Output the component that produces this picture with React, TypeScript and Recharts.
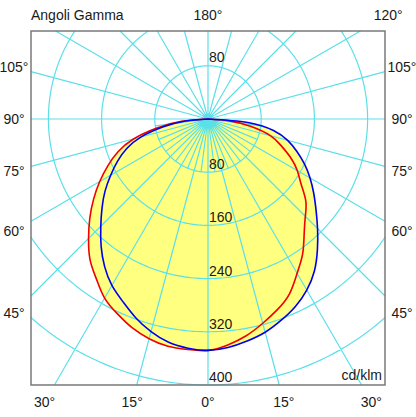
import React from 'react';
import { ScatterChart, Scatter, XAxis, YAxis } from 'recharts';

// luminous intensity in cd/klm, read every 5 degrees of gamma (0 = nadir)
const GAMMA = [0, 5, 10, 15, 20, 25, 30, 35, 40, 45, 50, 55, 60, 65, 70, 75, 80, 85, 90];
const RED_LEFT = [348, 348, 347, 342, 334, 323, 311, 293, 276, 254, 232, 210, 188, 166, 144, 116, 78, 40, 0];
const RED_RIGHT = [348, 341, 331, 318, 305, 290, 268, 248, 225, 207, 192, 171, 155, 137, 117, 97, 66, 33, 0];
const BLUE_LEFT = [348, 346, 341, 331, 318, 303, 289, 271, 250, 228, 208, 189, 169, 150, 130, 104, 68, 34, 0];
const BLUE_RIGHT = [348, 345, 339, 332, 322, 311, 297, 279, 256, 233, 212, 194, 177, 160, 142, 124, 100, 60, 0];

const RINGS = [80, 160, 240, 320, 400];
const RINGS_UP = [80];
const SPOKES = [0, 15, 30, 45, 60, 75, 90, 105, 120, 135, 150, 165, 180];
const FINE_SPOKES = [7.5, 22.5, 37.5, 52.5, 67.5, 82.5];
const SIDE_TICKS = [45, 60, 75, 90, 105];
const BOTTOM_TICKS = [0, 15, 30];
const TOP_TICKS = [180, 120];
const TITLE = 'Angoli Gamma';
const UNIT = 'cd/klm';

// layout
const W = 416;
const H = 417;
const POLE_X = 208;
const POLE_Y = 119;
const PX = 266 / 400; // pixels per cd/klm
const X_DOMAIN = [-POLE_X / PX, (W - POLE_X) / PX];
const Y_DOMAIN = [-(H - POLE_Y) / PX, POLE_Y / PX];
const BOX = { left: -177 / PX, right: 177 / PX, top: 88 / PX, bottom: -266 / PX };
const LBL_SIDE = 194 / PX;
const LBL_TOP = 104 / PX;
const LBL_BOTTOM = 283 / PX;

const GRID = '#5ce0e8';
const FONT = "'Liberation Sans', Arial, sans-serif";

type Pt = { x: number; y: number };

const rad = (d: number) => (d * Math.PI) / 180;
const polar = (g: number, r: number, side: number) => ({
  x: side * r * Math.sin(rad(g)),
  y: -r * Math.cos(rad(g)),
});

const outline = (left: number[], right: number[]) => [
  ...GAMMA.map((g, i) => polar(g, left[i], -1)).reverse(),
  ...GAMMA.map((g, i) => polar(g, right[i], 1)).slice(1),
];

const spoke = (g: number, side: number, len = Infinity): Pt[] => {
  const sx = side * Math.sin(rad(g));
  const sy = -Math.cos(rad(g));
  let t = len;
  if (Math.abs(sx) > 1e-9) t = Math.min(t, BOX.right / Math.abs(sx));
  if (sy > 1e-9) t = Math.min(t, BOX.top / sy);
  if (sy < -1e-9) t = Math.min(t, -BOX.bottom / -sy);
  return [{ x: 0, y: 0 }, { x: sx * t, y: sy * t }];
};

const EPS = 1e-6;
const inBox = (p: Pt) =>
  p.x >= BOX.left - EPS && p.x <= BOX.right + EPS && p.y >= BOX.bottom - EPS && p.y <= BOX.top + EPS;
const onRing = (r: number, a: number) => ({ x: r * Math.sin(rad(a)), y: -r * Math.cos(rad(a)) });

// circle of radius r clipped to the frame, as separate arcs
const ringArcs = (r: number) => {
  const arcs: Pt[][] = [];
  let cur: Pt[] = [];
  let prevA = 180;
  let prevIn = inBox(onRing(r, 180));
  if (prevIn) cur.push(onRing(r, 180));
  for (let a = 181; a <= 540; a++) {
    const p = onRing(r, a);
    const isIn = inBox(p);
    if (isIn !== prevIn) {
      let lo = prevA;
      let hi = a;
      for (let k = 0; k < 40; k++) {
        const m = (lo + hi) / 2;
        if (inBox(onRing(r, m)) === prevIn) lo = m;
        else hi = m;
      }
      if (prevIn) {
        cur.push(onRing(r, lo));
        arcs.push(cur);
        cur = [];
      } else {
        cur = [onRing(r, hi)];
      }
    }
    if (isIn) cur.push(p);
    prevA = a;
    prevIn = isIn;
  }
  if (cur.length) arcs.push(cur);
  return arcs;
};

const gridParts: Pt[][] = [
  ...FINE_SPOKES.flatMap((g) => [-1, 1].map((s) => spoke(g, s, RINGS[0]))),
  ...SPOKES.flatMap((g) => (g === 0 || g === 180 ? [1] : [-1, 1]).map((s) => spoke(g, s))),
  ...RINGS.flatMap((r) => ringArcs(r)),
];
const gridPoints = gridParts.flat();
const gridSizes = gridParts.map((p) => p.length);

const frame = [
  { x: BOX.left, y: BOX.top },
  { x: BOX.right, y: BOX.top },
  { x: BOX.right, y: BOX.bottom },
  { x: BOX.left, y: BOX.bottom },
];

// draws several separate polylines from one series' projected points
const polylines = (sizes: number[], stroke: string, width: number, closed = false) => (props: any) => {
  const pts = props.points || [];
  let d = '';
  let i = 0;
  for (const n of sizes) {
    const part = pts.slice(i, i + n);
    i += n;
    part.forEach((p: Pt, j: number) => {
      d += (j === 0 ? 'M' : 'L') + p.x.toFixed(2) + ',' + p.y.toFixed(2);
    });
    if (closed) d += 'Z';
  }
  return <path d={d} stroke={stroke} strokeWidth={width} fill="none" />;
};

const deg = (g: number) => `${g}°`;
const angleLabels = [
  ...SIDE_TICKS.flatMap((g) =>
    [-1, 1].map((s) => ({ x: s * LBL_SIDE, y: (-LBL_SIDE * Math.cos(rad(g))) / Math.sin(rad(g)), text: deg(g) }))
  ),
  ...BOTTOM_TICKS.flatMap((g) =>
    (g === 0 ? [1] : [-1, 1]).map((s) => ({ x: s * LBL_BOTTOM * Math.tan(rad(g)), y: -LBL_BOTTOM, text: deg(g) }))
  ),
  ...TOP_TICKS.map((g) => ({ x: (LBL_TOP * Math.sin(rad(g))) / -Math.cos(rad(g)), y: LBL_TOP, text: deg(g) })),
  { x: BOX.left, y: LBL_TOP, text: TITLE, anchor: 'start' },
];
const ringLabels = [
  ...RINGS.map((v) => ({ x: 0, y: -v, text: String(v), anchor: 'start', dx: 1, dy: -3, baseline: 'auto' })),
  ...RINGS_UP.map((v) => ({ x: 0, y: v, text: String(v), anchor: 'start', dx: 1, dy: -4, baseline: 'auto' })),
  { x: BOX.right, y: BOX.bottom, text: UNIT, anchor: 'end', dx: -3, dy: -5, baseline: 'auto' },
];

const noDot = () => null;
const textDot = (p: any) => {
  const d = p.payload;
  return (
    <text
      x={p.cx}
      y={p.cy}
      dx={d.dx ?? 0}
      dy={d.dy ?? 0}
      textAnchor={d.anchor ?? 'middle'}
      dominantBaseline={d.baseline ?? 'central'}
      fontFamily={FONT}
      fontSize={14}
      fill="#1a1a1a"
    >
      {d.text}
    </text>
  );
};

export default function App() {
  const red = outline(RED_LEFT, RED_RIGHT);
  const blue = outline(BLUE_LEFT, BLUE_RIGHT);

  return (
    <div style={{ position: 'absolute', left: 0, top: 0, width: W, height: H, background: '#fff' }}>
      <ScatterChart width={W} height={H} margin={{ top: 0, right: 0, bottom: 0, left: 0 }}>
        <XAxis type="number" dataKey="x" domain={X_DOMAIN} hide allowDataOverflow />
        <YAxis type="number" dataKey="y" domain={Y_DOMAIN} hide allowDataOverflow />

        <Scatter data={red} line={{ fill: '#ffff80', stroke: 'none' }} lineJointType="natural" shape={noDot} isAnimationActive={false} />
        <Scatter data={blue} line={{ fill: '#ffff80', stroke: 'none' }} lineJointType="natural" shape={noDot} isAnimationActive={false} />

        <Scatter data={gridPoints} line={polylines(gridSizes, GRID, 1.2)} shape={noDot} isAnimationActive={false} />
        <Scatter data={frame} line={polylines([4], '#7a7a7a', 1.5, true)} shape={noDot} isAnimationActive={false} />

        <Scatter data={red} line={{ stroke: '#f00000', strokeWidth: 1.6, strokeLinejoin: 'round' }} lineJointType="natural" shape={noDot} isAnimationActive={false} />
        <Scatter data={blue} line={{ stroke: '#0000f0', strokeWidth: 1.6, strokeLinejoin: 'round' }} lineJointType="natural" shape={noDot} isAnimationActive={false} />

        <Scatter data={ringLabels} shape={textDot} isAnimationActive={false} />
        <Scatter data={angleLabels} shape={textDot} isAnimationActive={false} />
      </ScatterChart>
    </div>
  );
}
